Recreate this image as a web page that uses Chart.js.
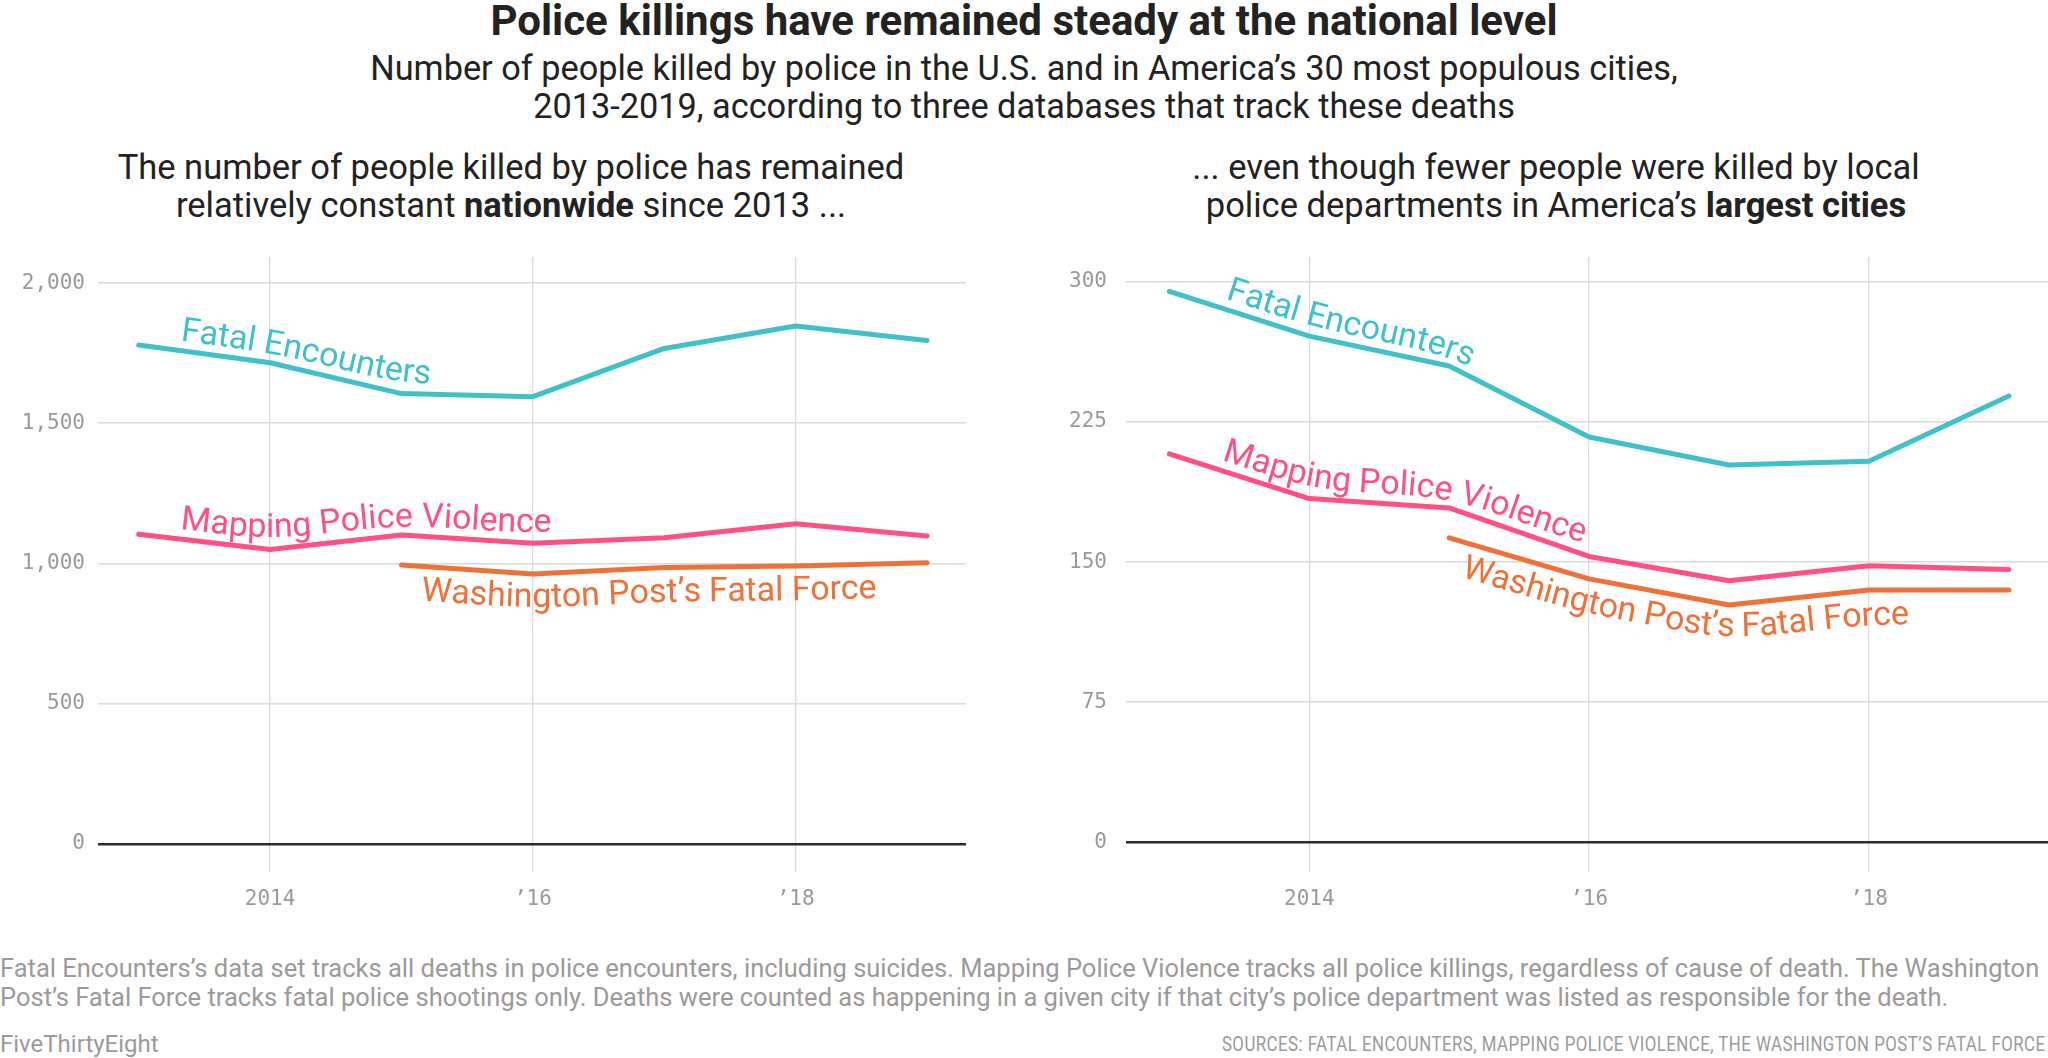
<!DOCTYPE html>
<html>
<head>
<meta charset="utf-8">
<script src="https://cdn.jsdelivr.net/npm/chart.js@4.4.1/dist/chart.umd.min.js"></script>
<style>
  body { margin: 0; width: 2048px; height: 1058px; background: #fff; position: relative; overflow: hidden; font-family: Roboto, "Liberation Sans", sans-serif; color: #222; }
  .txt { position: absolute; white-space: nowrap; }
  .title { left: 0; width: 2048px; top: 0; text-align: center; font-size: 42px; line-height: 41px; font-weight: 700; }
  .sub { left: 0; width: 2048px; top: 49px; text-align: center; font-size: 34.3px; line-height: 38px; }
  .panel { width: 900px; top: 148px; text-align: center; font-size: 34.5px; line-height: 38px; }
  .panel b { font-weight: 700; }
  .note { left: 0; top: 954px; font-size: 25.5px; line-height: 29px; color: #9a9a9a; }
  .brand { left: 0; top: 1032px; font-size: 24px; line-height: 24px; color: #9a9a9a; }
  .src { right: 2px; top: 1034px; font-size: 21px; line-height: 21px; color: #9a9a9a; letter-spacing: 0.6px; transform: scaleX(0.8); transform-origin: right center; }
  .box { position: absolute; top: 250px; height: 690px; }
</style>
</head>
<body>
<div class="txt title">Police killings have remained steady at the national level</div>
<div class="txt sub">Number of people killed by police in the U.S. and in America’s 30 most populous cities,<br>2013-2019, according to three databases that track these deaths</div>
<div class="txt panel" style="left:61px">The number of people killed by police has remained<br>relatively constant <b>nationwide</b> since 2013 ...</div>
<div class="txt panel" style="left:1106px">... even though fewer people were killed by local<br>police departments in America’s <b>largest cities</b></div>
<div class="box" style="left:0;width:1000px"><canvas id="natChart"></canvas></div>
<div class="box" style="left:1020px;width:1028px"><canvas id="cityChart"></canvas></div>
<div class="txt note">Fatal Encounters’s data set tracks all deaths in police encounters, including suicides. Mapping Police Violence tracks all police killings, regardless of cause of death. The Washington<br>Post’s Fatal Force tracks fatal police shootings only. Deaths were counted as happening in a given city if that city’s police department was listed as responsible for the death.</div>
<div class="txt brand">FiveThirtyEight</div>
<div class="txt src">SOURCES: FATAL ENCOUNTERS, MAPPING POLICE VIOLENCE, THE WASHINGTON POST’S FATAL FORCE</div>

<script>
// datos
const years = [2013, 2014, 2015, 2016, 2017, 2018, 2019];
const seriesNames = ["Fatal Encounters", "Mapping Police Violence", "Washington Post’s Fatal Force"];

// nationwide
const natFE = [1779, 1716, 1606, 1595, 1767, 1847, 1795];
const natMPV = [1104, 1050, 1102, 1072, 1092, 1142, 1098];
const natWaPo = [null, null, 995, 963, 986, 991, 1003];

// 30 largest cities
const cityFE = [295, 271, 255, 217, 202, 204, 239];
const cityMPV = [208, 184, 179, 153, 140, 148, 146];
const cityWaPo = [null, null, 163, 141, 127, 135, 135];

const natTicks = [0, 500, 1000, 1500, 2000];
const cityTicks = [0, 75, 150, 225, 300];
const xTicks = [2014, 2016, 2018];
const xTickLabels = ["2014", "’16", "’18"];

const colors = ["#40c1c8", "#ff4f83", "#ef7139"];

// text that follows a line
const pathLabels = {
  id: "pathLabels",
  afterDatasetsDraw(chart, args, opts) {
    const ctx = chart.ctx;
    const xs = chart.scales.x, ys = chart.scales.y;
    opts.items.forEach((it) => {
      const vals = chart.data.datasets[it.ds].data;
      let pts = [];
      vals.forEach((p) => {
        if (p.y != null) pts.push([xs.getPixelForValue(p.x), ys.getPixelForValue(p.y)]);
      });
      let dense = [];
      for (let i = 0; i < pts.length - 1; i++) {
        const [x0, y0] = pts[i], [x1, y1] = pts[i + 1];
        const n = Math.ceil(Math.hypot(x1 - x0, y1 - y0) / 2);
        for (let k = 0; k < n; k++) dense.push([x0 + (x1 - x0) * k / n, y0 + (y1 - y0) * k / n]);
      }
      dense.push(pts[pts.length - 1]);
      const W = opts.smooth;
      const sm = dense.map((p, i) => {
        let sx = 0, sy = 0, c = 0;
        for (let j = Math.max(0, i - W); j <= Math.min(dense.length - 1, i + W); j++) {
          sx += dense[j][0]; sy += dense[j][1]; c++;
        }
        return [sx / c, sy / c];
      });
      const fontSize = opts.size;
      const d = it.side === "above" ? opts.gap : -(opts.gap + fontSize * 0.711);
      const off = sm.map((p, i) => {
        const a = sm[Math.max(0, i - 2)], b = sm[Math.min(sm.length - 1, i + 2)];
        let tx = b[0] - a[0], ty = b[1] - a[1];
        const l = Math.hypot(tx, ty) || 1;
        tx /= l; ty /= l;
        return [p[0] + ty * d, p[1] - tx * d];
      });
      let acc = [0];
      for (let i = 1; i < off.length; i++) acc.push(acc[i - 1] + Math.hypot(off[i][0] - off[i - 1][0], off[i][1] - off[i - 1][1]));
      const startPx = xs.getPixelForValue(it.start);
      let i0 = off.findIndex((p) => p[0] >= startPx);
      if (i0 < 0) i0 = 0;
      const s0 = acc[i0];
      const at = (s) => {
        let j = 1;
        while (j < acc.length - 1 && acc[j] < s) j++;
        const f = (s - acc[j - 1]) / ((acc[j] - acc[j - 1]) || 1);
        const p = [off[j - 1][0] + (off[j][0] - off[j - 1][0]) * f, off[j - 1][1] + (off[j][1] - off[j - 1][1]) * f];
        const a = off[Math.max(0, j - 4)], b = off[Math.min(off.length - 1, j + 3)];
        return [p[0], p[1], Math.atan2(b[1] - a[1], b[0] - a[0])];
      };
      ctx.save();
      ctx.font = fontSize + "px " + opts.family;
      ctx.fillStyle = colors[it.ds];
      ctx.textAlign = "center";
      ctx.textBaseline = "alphabetic";
      const text = seriesNames[it.ds];
      for (let c = 0; c < text.length; c++) {
        const w0 = ctx.measureText(text.slice(0, c)).width;
        const w1 = ctx.measureText(text.slice(0, c + 1)).width;
        const [px, py, ang] = at(s0 + (w0 + w1) / 2);
        ctx.save();
        ctx.translate(px, py);
        ctx.rotate(ang);
        ctx.fillText(text[c], 0, 0);
        ctx.restore();
      }
      ctx.restore();
    });
  },
};

function makeChart(id, fe, mpv, wapo, yTicks, yMin, yMax, xMax, yWidth, yPad, padRight, labels) {
  const series = [fe, mpv, wapo];
  const data = {
    datasets: series.map((arr, k) => ({
      label: seriesNames[k],
      data: years.map((yr, i) => ({ x: yr, y: arr[i] })),
      borderColor: colors[k],
      backgroundColor: colors[k],
      borderWidth: 5,
      pointRadius: 0,
      borderCapStyle: "round",
      borderJoinStyle: "round",
      tension: 0,
      spanGaps: false,
    })),
  };
  const tickFont = { family: "DejaVu Sans Mono", size: 21 };
  const config = {
    type: "line",
    data,
    options: {
      responsive: true,
      maintainAspectRatio: false,
      animation: false,
      layout: { padding: { top: 7, right: padRight, left: 0, bottom: 0 } },
      plugins: {
        legend: { display: false },
        tooltip: { enabled: false },
        pathLabels: { items: labels, size: 34, gap: 10, smooth: 22, family: "Roboto" },
      },
      scales: {
        x: {
          type: "linear",
          min: 2012.69,
          max: xMax,
          afterBuildTicks: (s) => { s.ticks = xTicks.map((v) => ({ value: v })); },
          afterFit: (s) => { s.height = 68; s.paddingLeft = 0; s.paddingRight = 0; },
          grid: { color: "#dcdcdc", lineWidth: 1.3, drawTicks: false },
          border: { display: false },
          ticks: {
            padding: 15,
            color: "#999999",
            font: tickFont,
            maxRotation: 0,
            autoSkip: false,
            callback: (v) => xTickLabels[xTicks.indexOf(v)],
          },
        },
        y: {
          min: yMin,
          max: yMax,
          afterBuildTicks: (s) => { s.ticks = yTicks.map((v) => ({ value: v })); },
          afterFit: (s) => { s.width = yWidth; s.paddingTop = 0; s.paddingBottom = 0; },
          grid: {
            color: (c) => (c.tick && c.tick.value === 0 ? "#2b2b2b" : "#dadada"),
            lineWidth: (c) => (c.tick && c.tick.value === 0 ? 2.5 : 1.6),
            drawTicks: false,
          },
          border: { display: false },
          ticks: {
            padding: yPad,
            color: "#999999",
            font: tickFont,
            callback: (v) => v.toLocaleString("en-US"),
          },
        },
      },
    },
    plugins: [pathLabels],
  };
  return new Chart(document.getElementById(id), config);
}

makeChart("natChart", natFE, natMPV, natWaPo, natTicks, -100, 2093, 2019.297, 98, 13, 34, [
  { ds: 0, start: 2013.31, side: "above" },
  { ds: 1, start: 2013.31, side: "above" },
  { ds: 2, start: 2015.09, side: "below" },
]);
makeChart("cityChart", cityFE, cityMPV, cityWaPo, cityTicks, -16, 313.4, 2019.28, 106, 19, 0, [
  { ds: 0, start: 2013.39, side: "above" },
  { ds: 1, start: 2013.36, side: "above" },
  { ds: 2, start: 2015.06, side: "below" },
]);
</script>
</body>
</html>
